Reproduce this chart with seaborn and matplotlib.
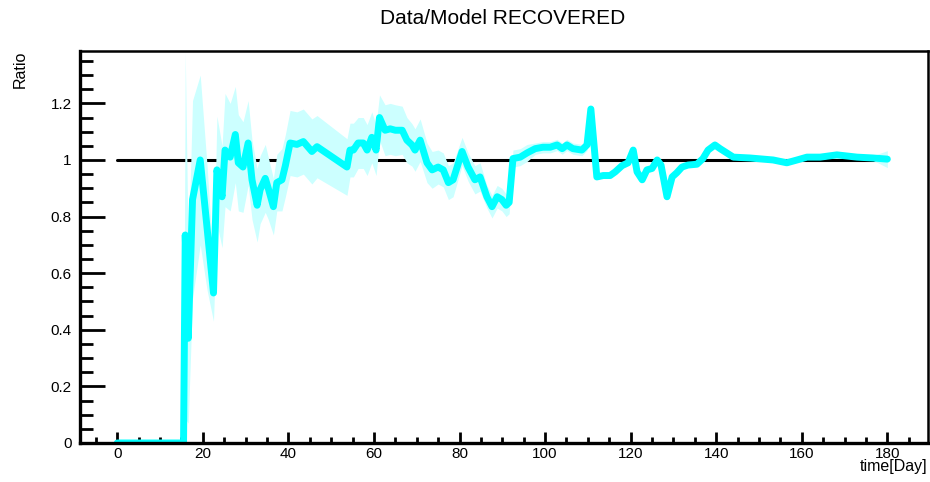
"""Data/Model ratio for RECOVERED, ROOT-style canvas redrawn with seaborn."""

import matplotlib

matplotlib.use("Agg")
import matplotlib.pyplot as plt
import matplotlib.ticker as mtick
import numpy as np
import pandas as pd
import seaborn as sns

# ratio points (day, data/model, half-width of band)
days = [
    0, 15.5, 15.9, 16.6, 17.6, 19.4, 21, 22.5, 23.3, 24.5,
    25.2, 26.4, 27.6, 28.3, 29.4, 30.6, 31.5, 32.7, 33.4, 34.6,
    35.3, 36.5, 37.3, 38.5, 39.3, 40.4, 42, 43.5, 45.5, 46.7,
    53.7, 54.4, 55.2, 56.3, 57.5, 58.4, 59.5, 60.5, 61.3, 62.6,
    63.8, 65, 66.6, 67.7, 68.9, 69.6, 70.8, 72.4, 73.6, 75,
    76.2, 77.4, 78.5, 80.6, 82, 83.6, 84.8, 86.4, 87.6, 88.8,
    89.9, 90.9, 91.6, 92.5, 94.2, 95.8, 97.7, 99.5, 101.2, 102.8,
    104, 105.1, 106.5, 108.6, 109.8, 110.7, 112.1, 113.6, 115.2, 116.4,
    118, 119.4, 120.6, 121.5, 122.7, 123.8, 125, 126.2, 127.1, 128.5,
    129.7, 130.8, 132, 133.4, 135.5, 136.9, 138.1, 139.7, 140.9, 144,
    147.9, 153.3, 156.5, 158.9, 161.2, 164.3, 168.2, 172.9, 176.6, 180,
]
ratio = [
    0, 0, 0.735, 0.37, 0.86, 1.0, 0.76, 0.53, 0.965, 0.87,
    1.035, 1.01, 1.09, 0.99, 0.975, 1.06, 0.93, 0.84, 0.895, 0.935,
    0.90, 0.835, 0.92, 0.93, 0.98, 1.06, 1.055, 1.065, 1.03, 1.047,
    0.975, 1.035, 1.035, 1.06, 1.06, 1.035, 1.08, 1.035, 1.15, 1.105,
    1.11, 1.105, 1.105, 1.07, 1.053, 1.035, 1.07, 0.99, 0.965, 0.975,
    0.965, 0.92, 0.93, 1.03, 0.975, 0.93, 0.94, 0.87, 0.835, 0.87,
    0.86, 0.84, 0.85, 1.005, 1.01, 1.025, 1.04, 1.045, 1.045, 1.053,
    1.04, 1.053, 1.04, 1.035, 1.053, 1.18, 0.94, 0.945, 0.945, 0.958,
    0.98, 0.99, 1.035, 0.958, 0.93, 0.965, 0.97, 1.0, 0.982, 0.87,
    0.94, 0.955, 0.975, 0.982, 0.985, 1.005, 1.035, 1.053, 1.04, 1.01,
    1.007, 1.0, 0.99, 1.0, 1.01, 1.01, 1.018, 1.01, 1.007, 1.003,
]
band = [
    0, 0, 0.65, 0.30, 0.35, 0.30, 0.22, 0.10, 0.19, 0.18,
    0.20, 0.19, 0.17, 0.17, 0.16, 0.15, 0.14, 0.13, 0.12, 0.12,
    0.11, 0.10, 0.10, 0.11, 0.11, 0.115, 0.115, 0.115, 0.115, 0.11,
    0.10, 0.095, 0.095, 0.09, 0.09, 0.09, 0.09, 0.09, 0.08, 0.09,
    0.09, 0.09, 0.085, 0.08, 0.075, 0.075, 0.075, 0.07, 0.065, 0.06,
    0.06, 0.06, 0.06, 0.05, 0.05, 0.05, 0.05, 0.04, 0.04, 0.04,
    0.04, 0.04, 0.04, 0.03, 0.03, 0.03, 0.02, 0.02, 0.02, 0.02,
    0.02, 0.02, 0.02, 0.02, 0.02, 0.015, 0.008, 0.008, 0.008, 0.008,
    0.008, 0.008, 0.008, 0.008, 0.008, 0.008, 0.008, 0.008, 0.008, 0.008,
    0.008, 0.008, 0.008, 0.008, 0.008, 0.008, 0.008, 0.008, 0.008, 0.008,
    0.008, 0.008, 0.008, 0.008, 0.008, 0.008, 0.008, 0.008, 0.008, 0.03,
]
model_days = [0, 180]
model_ratio = [1, 1]

df = pd.DataFrame({"day": days, "ratio": ratio, "err": band})
df["lo"] = df["ratio"] - df["err"]
df["hi"] = df["ratio"] + df["err"]

sns.set_theme(style="white")
plt.rcParams.update(
    {
        "text.color": "black",
        "xtick.color": "black",
        "ytick.color": "black",
        "axes.edgecolor": "black",
    }
)
plt.rcParams["font.family"] = ["Liberation Sans", "DejaVu Sans"]

fig = plt.figure(figsize=(9.3, 4.82), dpi=100)
ax = fig.add_axes([80 / 930, 39 / 482, 848 / 930, 392 / 482])

ax.plot(model_days, model_ratio, color="black", linewidth=2.2, zorder=2)
ax.fill_between(df["day"], df["lo"], df["hi"], color="#ccffff", linewidth=0, zorder=3)
sns.lineplot(data=df, x="day", y="ratio", ax=ax, color="#00ffff", linewidth=5,
             sort=False, estimator=None, zorder=4)

ax.set_xlim(-8.7, 189.5)
ax.set_ylim(0, 1.385)
ax.set_xlabel("")
ax.set_ylabel("")

ax.xaxis.set_major_locator(mtick.MultipleLocator(20))
ax.xaxis.set_minor_locator(mtick.MultipleLocator(5))
ax.yaxis.set_major_locator(mtick.MultipleLocator(0.2))
ax.yaxis.set_minor_locator(mtick.MultipleLocator(0.05))
ax.yaxis.set_major_formatter(mtick.FuncFormatter(lambda v, _p: f"{v:g}"))

ax.tick_params(axis="y", which="major", direction="in", length=18, width=2,
               pad=6, labelsize=11, left=True, right=False)
ax.tick_params(axis="y", which="minor", direction="in", length=9, width=2,
               left=True, right=False)
ax.tick_params(axis="x", which="major", direction="in", length=8, width=2,
               pad=3, labelsize=11, bottom=True, top=False)
ax.tick_params(axis="x", which="minor", direction="in", length=4, width=2,
               bottom=True, top=False)

for side in ["left", "bottom"]:
    ax.spines[side].set_linewidth(2.4)
for side in ["top", "right"]:
    ax.spines[side].set_linewidth(1.8)
for sp in ax.spines.values():
    sp.set_color("black")
    sp.set_zorder(5)

fig.text(503 / 930, 1 - 19 / 482, "Data/Model RECOVERED", ha="center", va="center", fontsize=15)
fig.text(927 / 930, 1 - 467 / 482, "time[Day]", ha="right", va="center", fontsize=11.5)
fig.text(20 / 930, 1 - 51 / 482, "Ratio", rotation=90, ha="center", va="top", fontsize=11.5)

fig.savefig("out.png", dpi=100, facecolor="white")
